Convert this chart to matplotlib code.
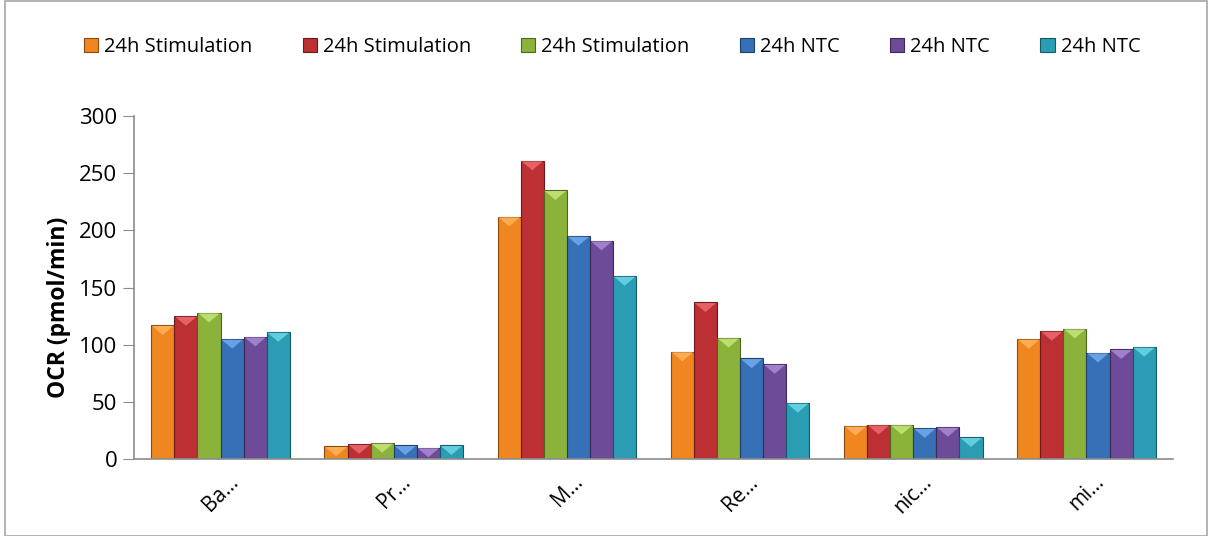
# OCR bar chart, 24h stimulation vs NTC
import numpy as np
import matplotlib.pyplot as plt
from matplotlib.patches import Rectangle

categories = ['Ba…', 'Pr…', 'M…', 'Re…', 'nic…', 'mi…']
series_names = ['24h Stimulation', '24h Stimulation', '24h Stimulation',
                '24h NTC', '24h NTC', '24h NTC']
stim_1 = [117, 11, 212, 94, 29, 105]
stim_2 = [125, 13, 261, 137, 30, 112]
stim_3 = [128, 14, 235, 106, 30, 114]
ntc_1 = [105, 12, 195, 88, 27, 93]
ntc_2 = [107, 10, 191, 83, 28, 96]
ntc_3 = [111, 12, 160, 49, 19, 98]
yticks = [0, 50, 100, 150, 200, 250, 300]

series = [stim_1, stim_2, stim_3, ntc_1, ntc_2, ntc_3]
colors = ['#F0861F', '#BC2F33', '#8BB23B', '#3670B6', '#6D4B98', '#2A9CB3']
edges = ['#8A4A10', '#6E1A1C', '#4E6620', '#1E3E66', '#3C2955', '#165A68']
caps = ['#FFB45E', '#EE6A6E', '#C6E57A', '#72AAEE', '#A88AD6', '#6CD8E8']

plt.rcParams['font.family'] = ['Open Sans', 'DejaVu Sans']

fig = plt.figure(figsize=(12.12, 5.36), dpi=100)
fig.patches.append(Rectangle((0.004, 0.0), 0.992, 0.998, transform=fig.transFigure,
                             fill=False, edgecolor='#A6A6A6', linewidth=1.2))
ax = fig.add_axes([134 / 1212, 1 - 459 / 536, (1173 - 134) / 1212, (459 - 116) / 536])

x = np.arange(len(categories))
w = 0.8 / len(series)
cap_depth = 8.5  # data units, bevel on bar tops
for i, vals in enumerate(series):
    pos = x - 0.4 + w * (i + 0.5)
    bars = ax.bar(pos, vals, width=w, color=colors[i], edgecolor=edges[i], linewidth=0.8,
                  label=series_names[i], zorder=2)
    # lighter bevel triangle on top of each bar
    for b in bars:
        x0, h, bw = b.get_x(), b.get_height(), b.get_width()
        d = min(cap_depth, h)
        ax.fill([x0 + bw * 0.04, x0 + bw * 0.96, x0 + bw / 2], [h - 0.6, h - 0.6, h - d],
                color=caps[i], alpha=0.85, linewidth=0, zorder=3)

ax.set_xlim(-0.5, len(categories) - 0.5)
ax.set_ylim(0, 300)
ax.set_yticks(yticks)
ax.set_xticks(x)
ax.set_xticklabels(categories, rotation=45, ha='center', fontsize=15)
ax.tick_params(axis='x', length=0, pad=9)
ax.tick_params(axis='y', labelsize=16, direction='out', length=8, color='#8C8C8C', pad=4)
for s in ['top', 'right']:
    ax.spines[s].set_visible(False)
for s in ['left', 'bottom']:
    ax.spines[s].set_color('#8C8C8C')
    ax.spines[s].set_linewidth(1.2)
ax.set_ylabel('OCR (pmol/min)', fontsize=16.5, fontweight='bold')
ax.yaxis.set_label_coords(-0.061, 0.443)

fig.legend(loc='center', bbox_to_anchor=(0.505, 1 - 47 / 536), ncol=6, frameon=False,
           fontsize=14.5, handlelength=0.7, handleheight=0.7, handletextpad=0.3,
           columnspacing=2.5)

fig.savefig('out.png', dpi=100)
